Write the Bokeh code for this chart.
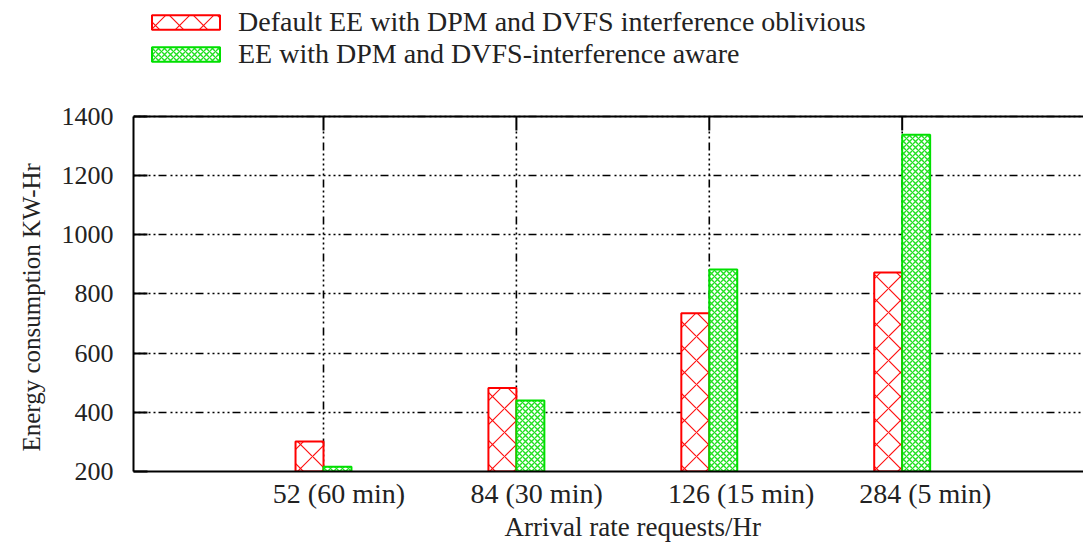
from bokeh.plotting import figure
from bokeh.models import Range1d, FixedTicker, Legend, LegendItem, Title, Span
from bokeh.embed import file_html
from bokeh.resources import INLINE

# ---- data ----
categories = ["52 (60 min)", "84 (30 min)", "126 (15 min)", "284 (5 min)"]
positions = [1, 2, 3, 4]
default_vals = [301, 482, 735, 873]      # Default EE with DPM and DVFS interference oblivious
aware_vals = [216, 440, 883, 1338]       # EE with DPM and DVFS-interference aware
y_ticks = [200, 400, 600, 800, 1000, 1200, 1400]
series_names = ["Default EE with DPM and DVFS interference oblivious",
                "EE with DPM and DVFS-interference aware"]

# ---- layout constants ----
PLOT_W, PLOT_H = 1083, 545
BORDER_BOTTOM = 74
FRAME_H = PLOT_H - BORDER_BOTTOM
Y_TOP = 1792            # frame extends above the axes box to hold the legend
BAR_W = 0.145
LABEL_SHIFTS = [0.08, 0.105, 0.165, 0.12]
FONT = "Liberation Serif"
GRID_DASH = "2 3 2 3 2 3 2 3 2 3 8 4"
TXT = "#222222"
TICK_PX = 14
units_per_px = (Y_TOP - y_ticks[0]) / FRAME_H
tick_len = TICK_PX * units_per_px
y0, y1 = y_ticks[0], y_ticks[-1]

p = figure(width=PLOT_W, height=PLOT_H,
           x_range=Range1d(0.015, 4.94), y_range=Range1d(y0, Y_TOP),
           output_backend="svg", toolbar_location=None,
           min_border_left=133, min_border_top=0, min_border_bottom=BORDER_BOTTOM,
           min_border_right=0)
p.outline_line_color = None
p.background_fill_color = "white"
p.border_fill_color = "white"

# vertical dotted grid lines at the categories and inward top ticks (drawn before bars)
n = len(positions)
p.segment(x0=positions, y0=[y0] * n, x1=positions, y1=[y1 - tick_len] * n,
          line_color="black", line_width=1.6, line_dash=GRID_DASH)
p.segment(x0=positions, y0=[y1 - tick_len] * n, x1=positions, y1=[y1] * n,
          line_color="black", line_width=2)

red_x = [c - BAR_W / 2 for c in positions]
green_x = [c + BAR_W / 2 for c in positions]

r1 = p.vbar(x=red_x, top=default_vals, bottom=y0, width=BAR_W,
            fill_color="white", line_color="#ff0000", line_width=2,
            hatch_pattern="diagonal_cross", hatch_color="#ff1010", hatch_scale=24, hatch_weight=1.2)
r2 = p.vbar(x=green_x, top=aware_vals, bottom=y0, width=BAR_W,
            fill_color="white", line_color="#00e000", line_width=2,
            hatch_pattern="diagonal_cross", hatch_color="#22e022", hatch_scale=6, hatch_weight=1.4)

# top border of the axes box
p.add_layout(Span(location=y1, dimension="width", line_color="black", line_width=2))

# y axis
p.yaxis.ticker = FixedTicker(ticks=y_ticks)
p.yaxis.bounds = (y0, y1)
p.yaxis.major_tick_in = TICK_PX
p.yaxis.major_tick_out = 0
p.yaxis.major_tick_line_width = 2
p.yaxis.minor_tick_line_color = None
p.yaxis.axis_line_width = 2
p.yaxis.major_label_standoff = 20
p.yaxis.major_label_text_font = FONT
p.yaxis.major_label_text_font_size = "26px"
p.yaxis.major_label_text_color = TXT

# y axis title, centred on the axes box (not the taller frame)
p.add_layout(Title(text="Energy consumption KW-Hr", align="left", offset=20,
                   text_font=FONT, text_font_size="25px", text_font_style="normal",
                   text_color=TXT, standoff=28), "left")

# x axis (labels)
label_pos = [c + s for c, s in zip(positions, LABEL_SHIFTS)]
p.xaxis.ticker = FixedTicker(ticks=label_pos)
p.xaxis.major_label_overrides = {lp: lab for lp, lab in zip(label_pos, categories)}
p.xaxis.major_tick_in = 0
p.xaxis.major_tick_out = 0
p.xaxis.minor_tick_line_color = None
p.xaxis.axis_line_width = 2
p.xaxis.major_label_standoff = 6
p.xaxis.major_label_text_font = FONT
p.xaxis.major_label_text_font_size = "28px"
p.xaxis.major_label_text_color = TXT

# grids
p.ygrid.ticker = FixedTicker(ticks=y_ticks)
p.ygrid.grid_line_color = "black"
p.ygrid.grid_line_width = 1.6
p.ygrid.grid_line_dash = GRID_DASH
p.xgrid.grid_line_color = None

# x axis title
p.add_layout(Title(text="Arrival rate requests/Hr", align="left", offset=371,
                   vertical_align="top",
                   text_font=FONT, text_font_size="27px", text_font_style="normal",
                   text_color=TXT, standoff=0), "below")

legend = Legend(items=[LegendItem(label=series_names[0], renderers=[r1]),
                       LegendItem(label=series_names[1], renderers=[r2])],
                location=(10, 401), glyph_width=85, glyph_height=18, label_standoff=10,
                spacing=0, padding=0, margin=0, border_line_color=None,
                background_fill_alpha=0, label_text_font=FONT,
                label_text_font_size="28px", label_text_color=TXT)
p.add_layout(legend, "center")

open("out.html", "w").write(file_html(p, INLINE))
